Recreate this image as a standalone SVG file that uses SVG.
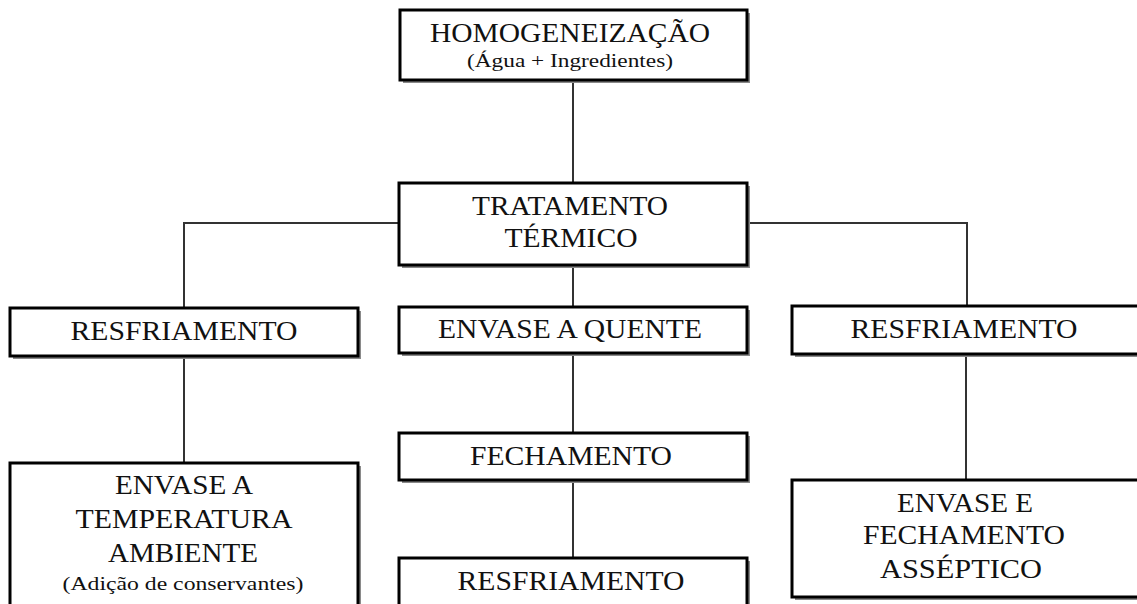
<svg xmlns="http://www.w3.org/2000/svg" width="1137" height="604" viewBox="0 0 1137 604">
<style>
.box{fill:#fff;stroke:#000;stroke-width:3}
.sh{fill:#8a8a8a}
.t{font-family:"Liberation Serif","Times New Roman",serif;font-size:28px;fill:#111;text-anchor:middle}
.s{font-family:"Liberation Serif","Times New Roman",serif;font-size:19px;fill:#111;text-anchor:middle}
.c{stroke:#333;stroke-width:2;fill:none}
</style>
<rect width="1137" height="604" fill="#fff"/>
<g id="connectors">
<line class="c" x1="573" y1="80" x2="573" y2="183"/>
<polyline class="c" points="399,223 184,223 184,308"/>
<polyline class="c" points="747,223 967,223 967,306"/>
<line class="c" x1="573" y1="265" x2="573" y2="307"/>
<line class="c" x1="184" y1="356" x2="184" y2="463"/>
<line class="c" x1="573" y1="353" x2="573" y2="433"/>
<line class="c" x1="573" y1="480" x2="573" y2="558"/>
<line class="c" x1="966" y1="353" x2="966" y2="480"/>
</g>
<g id="homogeneizacao">
<rect class="sh" x="403" y="13" width="347" height="70"/>
<rect class="box" x="400" y="10" width="347" height="70"/>
<text class="t" x="570" y="42" textLength="280" lengthAdjust="spacingAndGlyphs">HOMOGENEIZAÇÃO</text>
<text class="s" x="570" y="67" textLength="206" lengthAdjust="spacingAndGlyphs">(Água + Ingredientes)</text>
</g>
<g id="tratamento">
<rect class="sh" x="402" y="186" width="348" height="82"/>
<rect class="box" x="399" y="183" width="348" height="82"/>
<text class="t" x="570" y="215" textLength="196" lengthAdjust="spacingAndGlyphs">TRATAMENTO</text>
<text class="t" x="571" y="247" textLength="133" lengthAdjust="spacingAndGlyphs">TÉRMICO</text>
</g>
<g id="envase-quente">
<rect class="sh" x="402" y="310" width="348" height="46"/>
<rect class="box" x="399" y="307" width="348" height="46"/>
<text class="t" x="570" y="338" textLength="264" lengthAdjust="spacingAndGlyphs">ENVASE A QUENTE</text>
</g>
<g id="resfriamento-esq">
<rect class="sh" x="13" y="311" width="348" height="48"/>
<rect class="box" x="10" y="308" width="348" height="48"/>
<text class="t" x="184" y="340" textLength="227" lengthAdjust="spacingAndGlyphs">RESFRIAMENTO</text>
</g>
<g id="resfriamento-dir">
<rect class="sh" x="795" y="309" width="350" height="48"/>
<rect class="box" x="792" y="306" width="350" height="48"/>
<text class="t" x="964" y="338" textLength="227" lengthAdjust="spacingAndGlyphs">RESFRIAMENTO</text>
</g>
<g id="envase-ambiente">
<rect class="sh" x="13" y="466" width="348" height="150"/>
<rect class="box" x="10" y="463" width="348" height="150"/>
<text class="t" x="184" y="494" textLength="138" lengthAdjust="spacingAndGlyphs">ENVASE A</text>
<text class="t" x="184" y="528" textLength="217" lengthAdjust="spacingAndGlyphs">TEMPERATURA</text>
<text class="t" x="183" y="562" textLength="150" lengthAdjust="spacingAndGlyphs">AMBIENTE</text>
<text class="s" x="183" y="590" font-size="21" textLength="241" lengthAdjust="spacingAndGlyphs">(Adição de conservantes)</text>
</g>
<g id="fechamento">
<rect class="sh" x="402" y="436" width="348" height="47"/>
<rect class="box" x="399" y="433" width="348" height="47"/>
<text class="t" x="571" y="465" textLength="202" lengthAdjust="spacingAndGlyphs">FECHAMENTO</text>
</g>
<g id="resfriamento-centro">
<rect class="sh" x="402" y="561" width="348" height="60"/>
<rect class="box" x="399" y="558" width="348" height="60"/>
<text class="t" x="571" y="590" textLength="227" lengthAdjust="spacingAndGlyphs">RESFRIAMENTO</text>
</g>
<g id="envase-asseptico">
<rect class="sh" x="795" y="483" width="350" height="117"/>
<rect class="box" x="792" y="480" width="350" height="117"/>
<text class="t" x="965" y="512" textLength="136" lengthAdjust="spacingAndGlyphs">ENVASE E</text>
<text class="t" x="964" y="544" textLength="202" lengthAdjust="spacingAndGlyphs">FECHAMENTO</text>
<text class="t" x="961" y="578" textLength="162" lengthAdjust="spacingAndGlyphs">ASSÉPTICO</text>
</g>
</svg>
